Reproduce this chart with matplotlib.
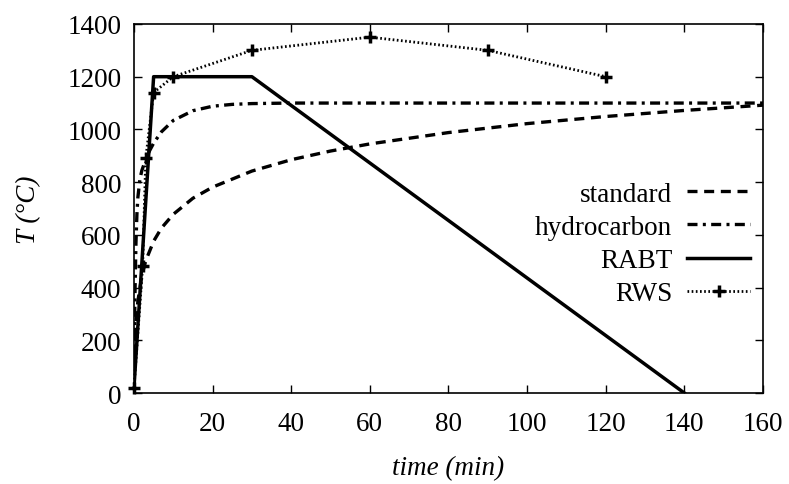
import matplotlib
matplotlib.use("Agg")
import matplotlib.pyplot as plt

# ---- data ----
std_t = [0, 0.25, 0.5, 1, 2, 3, 5, 7, 10, 15, 20, 30, 40, 50, 60, 80, 100, 120, 140, 160]
std_T = [20, 185, 261, 349, 445, 502, 576, 626, 678, 739, 781, 842, 885, 918, 945, 988, 1022, 1049, 1072, 1092]

hc_t = [0, 0.25, 0.5, 0.75, 1, 1.5, 2, 3, 4, 5, 7, 10, 15, 20, 25, 30, 40, 60, 100, 160]
hc_T = [20, 373, 568, 679, 743, 810, 844, 887, 920, 948, 991, 1034, 1071, 1088, 1095, 1098, 1100, 1100, 1100, 1100]

rabt_t = [0, 5, 30, 140]
rabt_T = [20, 1200, 1200, 0]

rws_t = [0, 2.2, 3, 5, 10, 30, 60, 90, 120]
rws_T = [20, 480, 890, 1140, 1200, 1300, 1350, 1300, 1200]

x_ticks = [0, 20, 40, 60, 80, 100, 120, 140, 160]
y_ticks = [0, 200, 400, 600, 800, 1000, 1200, 1400]

plt.rcParams['font.family'] = ['Liberation Serif', 'DejaVu Serif']

fig = plt.figure(figsize=(7.89, 4.85), dpi=100)
ax = fig.add_axes([0.1698, 0.1876, 0.967 - 0.1698, 0.9485 - 0.1876])

fs = 19.5
lw = 2.4
ax.plot(std_t, std_T, color='black', lw=lw, ls=(0, (3.0, 2.0)), label='standard')
ax.plot(hc_t, hc_T, color='black', lw=lw, ls=(0, (3.0, 1.6, 0.9, 1.6)), label='hydrocarbon')
ax.plot(rabt_t, rabt_T, color='black', lw=2.5, ls='-', label='RABT')
ax.plot(rws_t, rws_T, color='black', lw=2.0, ls=(0, (0.6, 0.9)), marker='+',
        markersize=9, markeredgewidth=2.5, label='RWS', clip_on=False, zorder=5)

ax.set_xlim(0, 160)
ax.set_ylim(0, 1400)
ax.set_xticks(x_ticks)
ax.set_yticks(y_ticks)
ax.tick_params(axis='both', direction='in', length=6, width=1, top=True, right=True,
               labelsize=fs)
ax.tick_params(axis='x', pad=13)
ax.tick_params(axis='y', pad=9)
for s in ax.spines.values():
    s.set_linewidth(1.2)

ax.set_xlabel('time (min)', fontsize=fs, style='italic', labelpad=14)
ax.set_ylabel('T (°C)', fontsize=fs, style='italic', labelpad=19)

leg = ax.legend(loc='center right', bbox_to_anchor=(0.979, 0.404), frameon=False,
                markerfirst=False, fontsize=fs, handlelength=2.3, handletextpad=0.56,
                labelspacing=0.3, borderpad=0, borderaxespad=0)

fig.savefig('out.png', dpi=100)
